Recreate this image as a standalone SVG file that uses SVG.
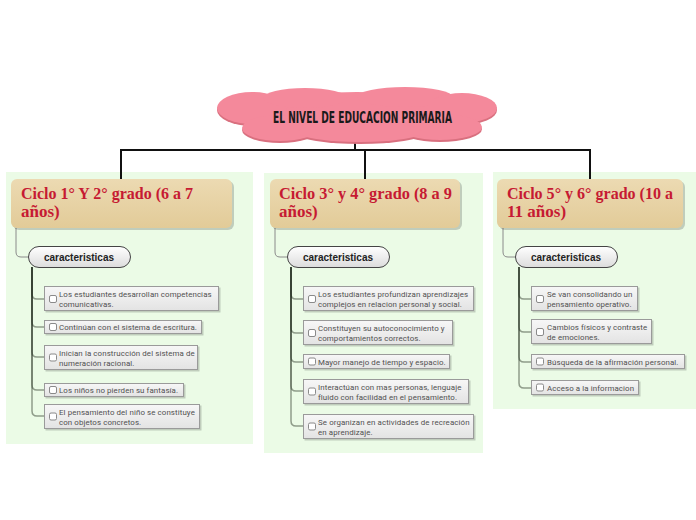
<svg xmlns="http://www.w3.org/2000/svg" width="696" height="520" viewBox="0 0 696 520">
<defs>
<linearGradient id="gTopic" x1="0" y1="0" x2="0" y2="1"><stop offset="0" stop-color="#ecdab2"/><stop offset="1" stop-color="#e2cb98"/></linearGradient>
<linearGradient id="gPill" x1="0" y1="0" x2="0" y2="1"><stop offset="0" stop-color="#ffffff"/><stop offset="1" stop-color="#dcdcdc"/></linearGradient>
<linearGradient id="gItem" x1="0" y1="0" x2="0" y2="1"><stop offset="0" stop-color="#f7f7f7"/><stop offset="1" stop-color="#e3e3e3"/></linearGradient>
<g id="cloudShape">
<ellipse cx="357" cy="115" rx="112" ry="23"/>
<ellipse cx="252" cy="108" rx="35" ry="16"/>
<ellipse cx="280" cy="128" rx="38" ry="13"/>
<ellipse cx="305" cy="98" rx="42" ry="10"/>
<ellipse cx="405" cy="97" rx="48" ry="10"/>
<ellipse cx="462" cy="108" rx="35" ry="15"/>
<ellipse cx="440" cy="127" rx="42" ry="13"/>
<ellipse cx="360" cy="132" rx="62" ry="10"/>
</g>
</defs>
<style>
.panel{fill:#ebfbe6}
.topic{fill:url(#gTopic)}
.shadow{fill:#000;fill-opacity:0.18}
.ttl{font-family:"Liberation Serif","DejaVu Serif",serif;font-weight:bold;font-size:17px;fill:#c61a33}
.pill{fill:url(#gPill);stroke:#444;stroke-width:1}
.ptxt{font-family:"Liberation Sans",Arial,sans-serif;font-weight:bold;font-size:10px;fill:#222;text-anchor:middle}
.item{fill:url(#gItem);stroke:#9a9a9a;stroke-width:1}
.chk{fill:#fff;stroke:#8a8a8a;stroke-width:1}
.itxt{font-family:Roboto,"Liberation Sans",sans-serif;font-size:7.9px;fill:#505050;letter-spacing:0.1px}
.main{fill:none;stroke:#111;stroke-width:2}
.sub{fill:none;stroke:#8a8a8a;stroke-width:1}
.br{fill:none;stroke:#1f2a1a;stroke-opacity:0.45;stroke-width:1.5}
</style>
<rect width="696" height="520" fill="#fff"/>
<rect class="panel" x="6" y="172" width="247" height="272"/>
<rect class="panel" x="264" y="173" width="219" height="280"/>
<rect class="panel" x="493" y="172" width="203" height="237"/>

<g id="connectors">
<path class="main" d="M355 143V150M121 179V150H590V179M365 150V179"/>
<path class="sub" d="M16 228V252Q16 257 21 257H29"/>
<path class="sub" d="M275 228V252Q275 257 280 257H288"/>
<path class="sub" d="M503 228V252Q503 257 508 257H516"/>
<path class="br" d="M32 267V294Q32 299 37 299H44"/>
<path class="br" d="M32 267V322Q32 327 37 327H44"/>
<path class="br" d="M32 267V352Q32 357 37 357H44"/>
<path class="br" d="M32 267V385Q32 390 37 390H44"/>
<path class="br" d="M32 267V411Q32 416 37 416H44"/>
<path class="br" d="M291 267V294Q291 299 296 299H303"/>
<path class="br" d="M291 267V328Q291 333 296 333H303"/>
<path class="br" d="M291 267V357Q291 362 296 362H303"/>
<path class="br" d="M291 267V386Q291 391 296 391H303"/>
<path class="br" d="M291 267V421Q291 426 296 426H303"/>
<path class="br" d="M519 267V294Q519 299 524 299H531"/>
<path class="br" d="M519 267V327Q519 332 524 332H531"/>
<path class="br" d="M519 267V357Q519 362 524 362H531"/>
<path class="br" d="M519 267V383Q519 388 524 388H531"/>
</g>

<g id="central">
<use href="#cloudShape" fill="#d9707f" transform="translate(0,2)"/>
<use href="#cloudShape" fill="#f4899b"/>
<text x="273" y="123" textLength="179" lengthAdjust="spacingAndGlyphs" font-family="'DejaVu Sans Condensed','DejaVu Sans',sans-serif" font-weight="bold" font-size="15" fill="#1a1a1a">EL NIVEL DE EDUCACION PRIMARIA</text>
</g>

<g id="topic1">
<rect class="shadow" x="13" y="181" width="221" height="49" rx="6"/>
<rect class="topic" x="11" y="179" width="221" height="49" rx="6"/>
<text class="ttl" x="21" y="199" textLength="172" lengthAdjust="spacingAndGlyphs">Ciclo 1° Y 2° grado (6 a 7</text>
<text class="ttl" x="21" y="217">años)</text>
</g>
<g id="topic2">
<rect class="shadow" x="272" y="181" width="190" height="49" rx="6"/>
<rect class="topic" x="270" y="179" width="190" height="49" rx="6"/>
<text class="ttl" x="279" y="199" textLength="173" lengthAdjust="spacingAndGlyphs">Ciclo 3° y 4° grado (8 a 9</text>
<text class="ttl" x="279" y="217">años)</text>
</g>
<g id="topic3">
<rect class="shadow" x="499" y="181" width="186" height="49" rx="6"/>
<rect class="topic" x="497" y="179" width="186" height="49" rx="6"/>
<text class="ttl" x="507" y="199" textLength="166" lengthAdjust="spacingAndGlyphs">Ciclo 5° y 6° grado (10 a</text>
<text class="ttl" x="507" y="217">11 años)</text>
</g>

<g id="car1"><rect class="pill" x="28.5" y="246.5" width="102" height="21" rx="10.5"/><text class="ptxt" x="79" y="260.5">caracteristicas</text></g>
<g id="car2"><rect class="pill" x="287.5" y="246.5" width="102" height="21" rx="10.5"/><text class="ptxt" x="338" y="260.5">caracteristicas</text></g>
<g id="car3"><rect class="pill" x="515.5" y="246.5" width="102" height="21" rx="10.5"/><text class="ptxt" x="566" y="260.5">caracteristicas</text></g>

<g id="l1"><rect class="shadow" x="45.5" y="287.5" width="175" height="25"/><rect class="item" x="44.5" y="286.5" width="174" height="24"/><rect class="chk" x="49.5" y="295.5" width="7" height="7" rx="1.5"/><text class="itxt" x="59" y="296.5">Los estudiantes desarrollan competencias</text><text class="itxt" x="59" y="306.5">comunicativas.</text></g>
<g id="l2"><rect class="shadow" x="45.5" y="321.5" width="158" height="14"/><rect class="item" x="44.5" y="320.5" width="157" height="13"/><rect class="chk" x="49.5" y="323.5" width="7" height="7" rx="1.5"/><text class="itxt" x="59" y="330">Continúan con el sistema de escritura.</text></g>
<g id="l3"><rect class="shadow" x="45.5" y="346.5" width="154" height="25"/><rect class="item" x="44.5" y="345.5" width="153" height="24"/><rect class="chk" x="49.5" y="354" width="7" height="7" rx="1.5"/><text class="itxt" x="59" y="355.5">Inician la construcción del sistema de</text><text class="itxt" x="59" y="365.5">numeración racional.</text></g>
<g id="l4"><rect class="shadow" x="45.5" y="384.5" width="140" height="14"/><rect class="item" x="44.5" y="383.5" width="139" height="13"/><rect class="chk" x="49.5" y="386.5" width="7" height="7" rx="1.5"/><text class="itxt" x="59" y="393">Los niños no pierden su fantasía.</text></g>
<g id="l5"><rect class="shadow" x="45.5" y="405.5" width="156" height="25"/><rect class="item" x="44.5" y="404.5" width="155" height="24"/><rect class="chk" x="49.5" y="413" width="7" height="7" rx="1.5"/><text class="itxt" x="59" y="414.5">El pensamiento del niño se constituye</text><text class="itxt" x="59" y="424.5">con objetos concretos.</text></g>

<g id="m1"><rect class="shadow" x="304.5" y="287.5" width="171" height="25"/><rect class="item" x="303.5" y="286.5" width="170" height="24"/><rect class="chk" x="308.5" y="295.5" width="7" height="7" rx="1.5"/><text class="itxt" x="318" y="296.5">Los estudiantes profundizan aprendizajes</text><text class="itxt" x="318" y="306.5">complejos en relacion personal y social.</text></g>
<g id="m2"><rect class="shadow" x="304.5" y="321.5" width="150" height="25"/><rect class="item" x="303.5" y="320.5" width="149" height="24"/><rect class="chk" x="308.5" y="329.5" width="7" height="7" rx="1.5"/><text class="itxt" x="318" y="330.5">Constituyen su autoconocimiento y</text><text class="itxt" x="318" y="340.5">comportamientos correctos.</text></g>
<g id="m3"><rect class="shadow" x="304.5" y="355.5" width="147" height="15"/><rect class="item" x="303.5" y="354.5" width="146" height="14"/><rect class="chk" x="308.5" y="358" width="7" height="7" rx="1.5"/><text class="itxt" x="318" y="364.5">Mayor manejo de tiempo y espacio.</text></g>
<g id="m4"><rect class="shadow" x="304.5" y="380.5" width="166" height="25"/><rect class="item" x="303.5" y="379.5" width="165" height="24"/><rect class="chk" x="308.5" y="388" width="7" height="7" rx="1.5"/><text class="itxt" x="318" y="389.5">Interactúan con mas personas, lenguaje</text><text class="itxt" x="318" y="399.5">fluido con facilidad en el pensamiento.</text></g>
<g id="m5"><rect class="shadow" x="304.5" y="415.5" width="171" height="25"/><rect class="item" x="303.5" y="414.5" width="170" height="24"/><rect class="chk" x="308.5" y="423" width="7" height="7" rx="1.5"/><text class="itxt" x="318" y="424.5">Se organizan en actividades de recreación</text><text class="itxt" x="318" y="434.5">en aprendizaje.</text></g>

<g id="r1"><rect class="shadow" x="532.5" y="287.5" width="107" height="25"/><rect class="item" x="531.5" y="286.5" width="106" height="24"/><rect class="chk" x="536.5" y="295.5" width="7" height="7" rx="1.5"/><text class="itxt" x="547" y="296.5">Se van consolidando un</text><text class="itxt" x="547" y="306.5">pensamiento operativo.</text></g>
<g id="r2"><rect class="shadow" x="532.5" y="320.5" width="121" height="25"/><rect class="item" x="531.5" y="319.5" width="120" height="24"/><rect class="chk" x="536.5" y="328.5" width="7" height="7" rx="1.5"/><text class="itxt" x="547" y="329.5">Cambios físicos y contraste</text><text class="itxt" x="547" y="339.5">de emociones.</text></g>
<g id="r3"><rect class="shadow" x="532.5" y="355.5" width="154" height="15"/><rect class="item" x="531.5" y="354.5" width="153" height="14"/><rect class="chk" x="536.5" y="358" width="7" height="7" rx="1.5"/><text class="itxt" x="547" y="364.5">Búsqueda de la afirmación personal.</text></g>
<g id="r4"><rect class="shadow" x="532.5" y="381.5" width="108" height="15"/><rect class="item" x="531.5" y="380.5" width="107" height="14"/><rect class="chk" x="536.5" y="384" width="7" height="7" rx="1.5"/><text class="itxt" x="547" y="390.5">Acceso a la informacion</text></g>
</svg>
